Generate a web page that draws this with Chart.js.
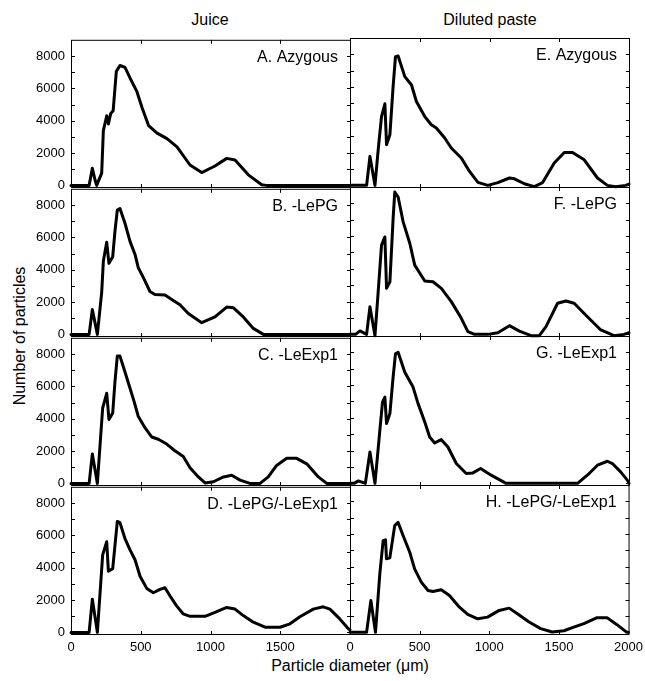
<!DOCTYPE html>
<html>
<head>
<meta charset="utf-8">
<script src="https://cdn.jsdelivr.net/npm/chart.js@4.4.1/dist/chart.umd.min.js"></script>
<style>
  body { margin: 0; background: #fff; }
  #wrap { position: relative; width: 645px; height: 681px; font-family: "Liberation Sans", Arial, sans-serif; color: #000; }
  #wrap canvas { position: absolute; }
  .lbl { position: absolute; font-size: 16px; white-space: nowrap; transform: translate(-50%, -50%); }
</style>
</head>
<body>
<div id="wrap">
  <div class="lbl" style="left:210px;top:20px">Juice</div>
  <div class="lbl" style="left:490px;top:20px">Diluted paste</div>
  <div class="lbl" style="left:20px;top:336px;transform:translate(-50%,-50%) rotate(-90deg)">Number of particles</div>
  <div class="lbl" style="left:350px;top:666px">Particle diameter (μm)</div>
</div>
<script>
// tick values
const yTicks = [0, 1000, 2000, 3000, 4000, 5000, 6000, 7000, 8000];
const xTicks = [0, 500, 1000, 1500, 2000];

const juiceLabels = ['A. Azygous', 'B. -LePG', 'C. -LeExp1', 'D. -LePG/-LeExp1'];
const pasteLabels = ['E. Azygous', 'F. -LePG', 'G. -LeExp1', 'H. -LePG/-LeExp1'];

// Juice (diameter in µm, number of particles)
const juiceAzygousD = [0, 130, 153, 172, 184, 220, 232, 256, 268, 285, 302, 325, 351, 387, 423, 471, 509, 556, 617, 688, 760, 853, 937, 1032, 1116, 1176, 1271, 1367, 1400, 2000];
const juiceAzygousN = [0, 0, 1060, 350, 0, 760, 3390, 4300, 3800, 4450, 4610, 7050, 7410, 7290, 6640, 5830, 4810, 3700, 3230, 2890, 2380, 1260, 790, 1200, 1670, 1570, 650, 40, 0, 0];

const juicePgD = [0, 130, 153, 189, 220, 232, 256, 272, 299, 315, 332, 351, 387, 423, 459, 482, 518, 566, 602, 674, 733, 781, 841, 937, 1032, 1116, 1163, 1235, 1307, 1379, 2000];
const juicePgN = [0, 0, 1530, 0, 2600, 4530, 5690, 4390, 4800, 6360, 7680, 7780, 6870, 5750, 4940, 4130, 3520, 2650, 2460, 2440, 2100, 1830, 1290, 720, 1080, 1690, 1650, 1080, 370, 0, 0];

const juiceExpD = [0, 130, 153, 189, 227, 256, 272, 299, 315, 332, 351, 387, 423, 452, 482, 530, 578, 626, 686, 745, 805, 853, 913, 961, 1021, 1093, 1152, 1212, 1283, 1355, 1414, 1474, 1546, 1618, 1690, 1773, 1833, 2000];
const juiceExpN = [0, 0, 1820, 0, 4660, 5570, 3950, 4350, 6280, 7870, 7870, 6890, 5880, 5070, 4150, 3440, 2870, 2730, 2430, 2020, 1660, 970, 400, 30, 100, 400, 500, 200, 0, 0, 400, 1110, 1550, 1550, 1210, 400, 0, 0];

const juiceBothD = [0, 130, 153, 189, 227, 256, 268, 299, 332, 351, 387, 423, 459, 495, 543, 590, 638, 674, 710, 757, 805, 853, 961, 1032, 1116, 1176, 1235, 1307, 1391, 1499, 1570, 1641, 1737, 1808, 1856, 1916, 1988, 2000];
const juiceBothN = [0, 0, 2050, 0, 4790, 5600, 3780, 3940, 6860, 6780, 5800, 5100, 4490, 3470, 2720, 2450, 2660, 2760, 2250, 1640, 1140, 990, 990, 1240, 1540, 1440, 1040, 630, 320, 320, 530, 970, 1440, 1580, 1440, 930, 230, 150];

// Diluted paste
const pasteAzygousD = [0, 119, 143, 179, 202, 226, 250, 262, 286, 309, 326, 345, 393, 441, 476, 536, 583, 619, 679, 726, 798, 857, 917, 988, 1060, 1143, 1179, 1250, 1321, 1381, 1464, 1536, 1595, 1679, 1774, 1845, 1905, 1976, 2000];
const pasteAzygousN = [0, 0, 1770, 0, 2170, 4200, 4980, 2480, 3090, 6030, 7860, 7900, 6640, 6130, 5120, 4200, 3700, 3500, 2890, 2280, 1670, 850, 180, 0, 170, 450, 400, 100, -80, 170, 1370, 2010, 2010, 1560, 450, 0, -80, 0, 80];

const pastePgD = [0, 40, 71, 119, 143, 179, 202, 226, 250, 262, 286, 309, 321, 345, 381, 429, 464, 536, 595, 655, 726, 798, 845, 893, 988, 1060, 1143, 1214, 1298, 1357, 1405, 1488, 1548, 1607, 1702, 1798, 1893, 1964, 2000];
const pastePgN = [0, 0, 210, 0, 1690, -80, 2600, 5450, 5950, 2810, 3210, 7070, 8690, 8390, 6870, 5550, 4230, 3260, 3210, 2810, 2000, 980, 170, 0, 0, 100, 530, 200, -80, -80, 470, 1900, 2040, 1900, 1080, 270, -80, 0, 100];

const pasteExpD = [0, 30, 60, 110, 143, 179, 214, 233, 250, 262, 286, 309, 326, 345, 393, 452, 488, 536, 571, 607, 655, 702, 762, 833, 881, 936, 1012, 1119, 1631, 1714, 1774, 1845, 1881, 1940, 1988, 2000];
const pasteExpN = [0, 0, 150, 0, 1920, 0, 3240, 4960, 5270, 3650, 4260, 6490, 7910, 8010, 6790, 5880, 4870, 3750, 2830, 2470, 2670, 2220, 1210, 600, 640, 910, 500, 0, 0, 600, 1110, 1350, 1210, 700, 200, 0];

const pasteBothD = [0, 119, 150, 183, 214, 238, 255, 262, 286, 321, 345, 381, 429, 464, 512, 560, 595, 655, 714, 786, 845, 917, 988, 1071, 1143, 1202, 1286, 1369, 1452, 1536, 1607, 1679, 1774, 1845, 1917, 1988, 2000];
const pasteBothN = [0, 0, 1950, 0, 3570, 5600, 5650, 4490, 4550, 6520, 6720, 5910, 4890, 3880, 3070, 2560, 2500, 2600, 2250, 1540, 1100, 830, 930, 1340, 1480, 1140, 630, 230, 20, 100, 320, 530, 900, 900, 470, 0, 0];

const juiceD = [juiceAzygousD, juicePgD, juiceExpD, juiceBothD];
const juiceN = [juiceAzygousN, juicePgN, juiceExpN, juiceBothN];
const pasteD = [pasteAzygousD, pastePgD, pasteExpD, pasteBothD];
const pasteN = [pasteAzygousN, pastePgN, pasteExpN, pasteBothN];

// layout
const colLeft = [71, 350];
const rowTop = [38, 187, 336, 485];
const plotW = 279, plotH = 149;
const padL = 60, padT = 12, padR = 20, padB = 28;
const fontFamily = '"Liberation Sans", Arial, sans-serif';

// frame, inward ticks and panel letter
const frameTicks = {
    id: 'frameTicks',
    afterDraw(chart) {
        const { ctx, chartArea: a, scales: { x, y } } = chart;
        ctx.save();
        ctx.strokeStyle = '#000';
        ctx.lineWidth = 1;
        ctx.strokeRect(a.left + 0.5, a.top + 0.5, a.width, a.height);
        ctx.beginPath();
        yTicks.forEach(v => {
            const py = Math.round(y.getPixelForValue(v)) + 0.5;
            ctx.moveTo(a.left, py); ctx.lineTo(a.left + 4, py);
            ctx.moveTo(a.right - 3, py); ctx.lineTo(a.right + 1, py);
        });
        xTicks.slice(1, -1).forEach(v => {
            const px = Math.round(x.getPixelForValue(v)) + 0.5;
            ctx.moveTo(px, a.top); ctx.lineTo(px, a.top + 4);
            ctx.moveTo(px, a.bottom - 3); ctx.lineTo(px, a.bottom + 1);
        });
        ctx.stroke();
        ctx.fillStyle = '#000';
        ctx.font = '16px ' + fontFamily;
        ctx.textAlign = 'right';
        ctx.textBaseline = 'middle';
        ctx.fillText(chart.options.plugins.frameTicks.text, a.right - 12, a.top + 18);
        ctx.restore();
    }
};

function makePanel(col, row) {
    const d = col === 0 ? juiceD[row] : pasteD[row];
    const n = col === 0 ? juiceN[row] : pasteN[row];
    const label = col === 0 ? juiceLabels[row] : pasteLabels[row];

    const canvas = document.createElement('canvas');
    canvas.width = padL + plotW + padR;
    canvas.height = padT + plotH + padB;
    canvas.style.left = (colLeft[col] - padL) + 'px';
    canvas.style.top = (rowTop[row] - padT) + 'px';
    document.getElementById('wrap').appendChild(canvas);

    new Chart(canvas, {
        type: 'line',
        data: {
            datasets: [{
                data: d.map((x, i) => ({ x: x, y: n[i] })),
                borderColor: '#000',
                borderWidth: 3,
                borderJoinStyle: 'round',
                borderCapStyle: 'round',
                pointRadius: 0,
                tension: 0,
                fill: false,
                clip: 4
            }]
        },
        options: {
            responsive: false,
            animation: false,
            devicePixelRatio: 1,
            events: [],
            layout: { padding: { left: 0, top: padT, right: padR, bottom: 0 } },
            plugins: {
                legend: { display: false },
                tooltip: { enabled: false },
                frameTicks: { text: label }
            },
            scales: {
                x: {
                    type: 'linear',
                    min: 0,
                    max: 2000,
                    grid: { display: false, drawTicks: false },
                    border: { display: false },
                    afterBuildTicks: s => { s.ticks = xTicks.map(v => ({ value: v })); },
                    afterFit: s => { s.height = padB; },
                    ticks: {
                        display: row === 3,
                        padding: 6,
                        color: '#000',
                        maxRotation: 0,
                        autoSkip: false,
                        font: { size: 13, family: fontFamily },
                        callback: v => (col === 0 && v === 2000) ? '' : String(v)
                    }
                },
                y: {
                    type: 'linear',
                    min: -100,
                    max: 9000,
                    grid: { display: false, drawTicks: false },
                    border: { display: false },
                    afterBuildTicks: s => { s.ticks = yTicks.map(v => ({ value: v })); },
                    afterFit: s => { s.width = padL; },
                    ticks: {
                        display: col === 0,
                        padding: 6,
                        color: '#000',
                        autoSkip: false,
                        font: { size: 13, family: fontFamily },
                        callback: v => v % 2000 === 0 ? String(v) : ''
                    }
                }
            }
        },
        plugins: [frameTicks]
    });
}

for (let row = 0; row < 4; row++) {
    makePanel(0, row);
    makePanel(1, row);
}
</script>
</body>
</html>
